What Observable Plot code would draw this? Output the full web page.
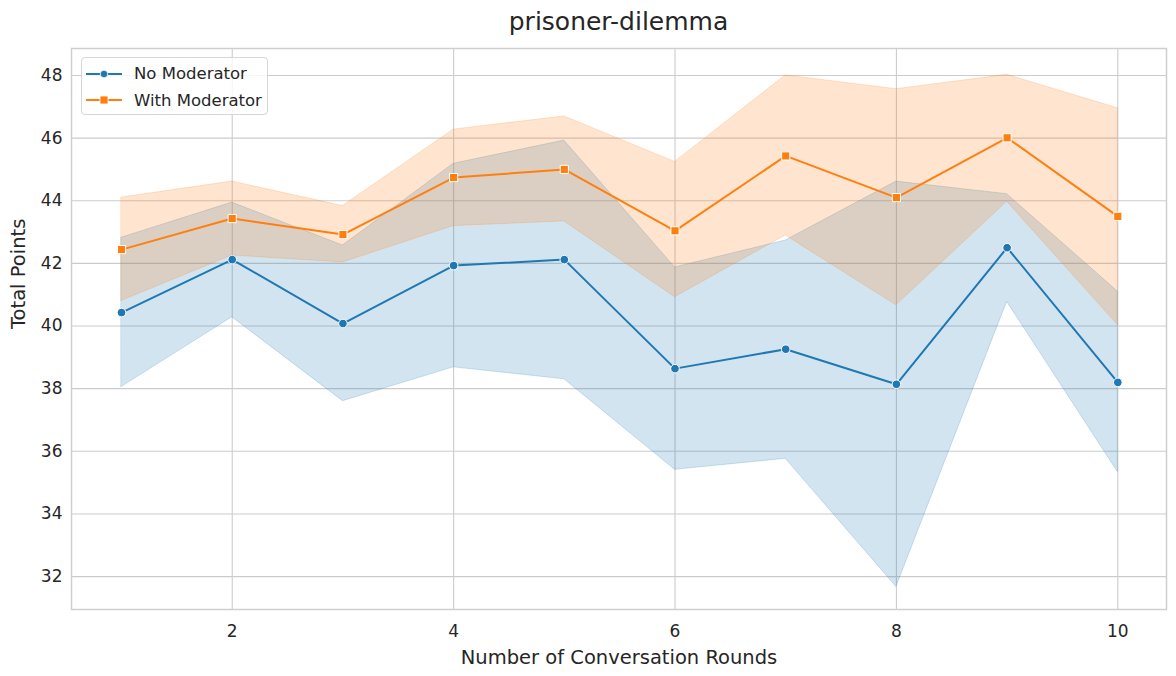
<!DOCTYPE html>
<html>
<head>
<meta charset="utf-8">
<script src="https://cdn.jsdelivr.net/npm/d3@7"></script>
<script src="https://cdn.jsdelivr.net/npm/@observablehq/plot@0.6"></script>
<style>
  html, body { margin: 0; padding: 0; background: #fff; }
  #wrap { position: relative; width: 1176px; height: 676px; font-family: "DejaVu Sans", sans-serif; }
  #title { height: 40px; line-height: 44px; margin-left: 71px; width: 1095px; text-align: center; font-size: 25px; color: #262626; }
  #legend { position: absolute; left: 81px; top: 57px; width: 187px; height: 58px; box-sizing: border-box;
    border: 1px solid #d6d6d6; border-radius: 4px; background: rgba(255,255,255,0.8); font-size: 16.5px; color: #262626; }
  .li { position: absolute; left: 4px; height: 20px; display: flex; align-items: center; white-space: nowrap; }
  .li svg { margin-right: 12px; flex: none; }
</style>
</head>
<body>
<div id="wrap">
  <div id="title">prisoner-dilemma</div>
  <div id="chart"></div>
  <div id="legend"></div>
</div>
<script>
const rounds = [1, 2, 3, 4, 5, 6, 7, 8, 9, 10];
const seriesNames = ["No Moderator", "With Moderator"];
const seriesColors = ["#1f77b4", "#ff7f0e"];

const noModMean = [40.43, 42.12, 40.08, 41.93, 42.12, 38.64, 39.26, 38.14, 42.5, 38.2];
const noModLow  = [38.05, 40.28, 37.6, 38.68, 38.3, 35.41, 35.76, 31.67, 40.77, 35.34];
const noModHigh = [42.82, 43.94, 42.57, 45.18, 45.92, 41.87, 42.73, 44.61, 44.21, 41.1];

const withModMean = [42.44, 43.43, 42.92, 44.74, 45.0, 43.04, 45.43, 44.1, 46.01, 43.5];
const withModLow  = [40.8, 42.25, 42.03, 43.19, 43.34, 40.92, 42.89, 40.66, 43.97, 40.03];
const withModHigh = [44.1, 44.61, 43.83, 46.27, 46.69, 45.24, 48.0, 47.56, 48.02, 46.95];

const xTicks = [2, 4, 6, 8, 10];
const yTicks = [32, 34, 36, 38, 40, 42, 44, 46, 48];

const rowsFor = (name, mean, low, high) =>
  rounds.map((r, i) => ({ series: name, round: r, mean: mean[i], low: low[i], high: high[i] }));
const noMod = rowsFor(seriesNames[0], noModMean, noModLow, noModHigh);
const withMod = rowsFor(seriesNames[1], withModMean, withModLow, withModHigh);

const grid = "#cccccc";
const text = "#262626";

const chart = Plot.plot({
  width: 1176,
  height: 636,
  marginTop: 8,
  marginBottom: 67,
  marginLeft: 71,
  marginRight: 10,
  style: { fontFamily: "DejaVu Sans, sans-serif", fontSize: "17px", color: text, background: "#fff" },
  x: { domain: [0.548, 10.44], ticks: xTicks, tickSize: 0, tickPadding: 14, label: null },
  y: { domain: [30.95, 48.86], ticks: yTicks, tickSize: 0, tickPadding: 9, label: null },
  marks: [
    Plot.gridX(xTicks, { stroke: grid, strokeOpacity: 1, strokeWidth: 1.1 }),
    Plot.gridY(yTicks, { stroke: grid, strokeOpacity: 1, strokeWidth: 1.1 }),
    Plot.areaY(noMod, { x: "round", y1: "low", y2: "high", fill: seriesColors[0], fillOpacity: 0.2,
      stroke: seriesColors[0], strokeOpacity: 0.2, strokeWidth: 1 }),
    Plot.lineY(noMod, { x: "round", y: "mean", stroke: seriesColors[0], strokeWidth: 2 }),
    Plot.dot(noMod, { x: "round", y: "mean", fill: seriesColors[0], stroke: "white", strokeWidth: 1, r: 4.3, symbol: "circle" }),
    Plot.areaY(withMod, { x: "round", y1: "low", y2: "high", fill: seriesColors[1], fillOpacity: 0.2,
      stroke: seriesColors[1], strokeOpacity: 0.2, strokeWidth: 1 }),
    Plot.lineY(withMod, { x: "round", y: "mean", stroke: seriesColors[1], strokeWidth: 2 }),
    Plot.dot(withMod, { x: "round", y: "mean", fill: seriesColors[1], stroke: "white", strokeWidth: 1, r: 4.6, symbol: "square" }),
    Plot.frame({ stroke: "#cfcfcf", strokeWidth: 1.5 }),
    Plot.axisX(xTicks, { tickSize: 0, tickPadding: 15, fontSize: 17, fill: text }),
    Plot.axisY(yTicks, { tickSize: 0, tickPadding: 9, fontSize: 17, fill: text }),
    Plot.text(["Number of Conversation Rounds"], { frameAnchor: "bottom", dy: 54, fontSize: 19.5, fill: text }),
    Plot.text(["Total Points"], { frameAnchor: "left", dx: -53, rotate: -90, fontSize: 19.5, fill: text })
  ]
});
document.getElementById("chart").appendChild(chart);

// legend
const legend = document.getElementById("legend");
seriesNames.forEach((name, i) => {
  const item = document.createElement("div");
  item.className = "li";
  item.style.top = (i === 0 ? 5.5 : 32) + "px";
  const marker = i === 0
    ? `<circle cx="18" cy="8" r="3.8" fill="${seriesColors[i]}" stroke="white" stroke-width="0.8"/>`
    : `<rect x="14" y="4" width="8" height="8" fill="${seriesColors[i]}" stroke="white" stroke-width="0.8"/>`;
  item.innerHTML = `<svg width="36" height="16"><line x1="0" x2="36" y1="8" y2="8" stroke="${seriesColors[i]}" stroke-width="2"/>${marker}</svg><span>${name}</span>`;
  legend.appendChild(item);
});
</script>
</body>
</html>
